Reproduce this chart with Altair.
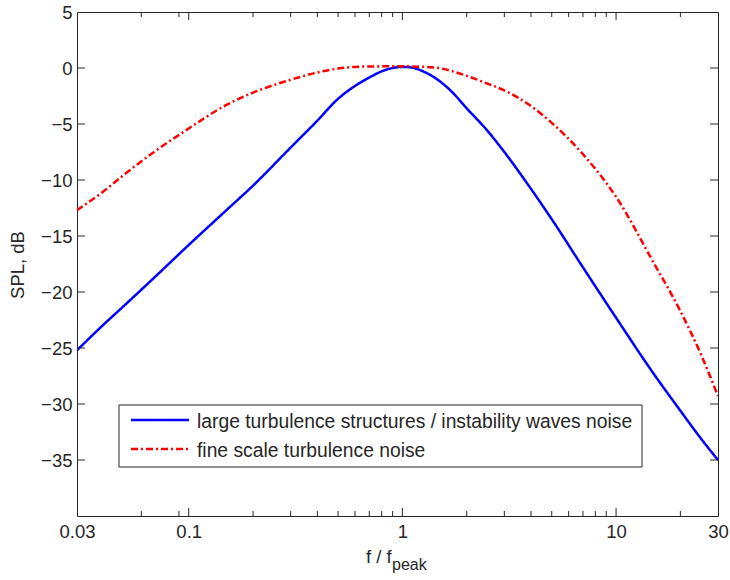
import altair as alt
import pandas as pd

# ---- data ----
series_names = ["large turbulence structures / instability waves noise",
                "fine scale turbulence noise"]

f_blue = [0.03, 0.04, 0.05, 0.07, 0.1, 0.15, 0.2, 0.3, 0.4, 0.5, 0.6, 0.7, 0.8, 0.9,
          1.0, 1.1, 1.25, 1.4, 1.7, 2.0, 2.5, 3.0, 4.0, 5.0, 7.0, 10, 15, 20, 25, 30]
spl_blue = [-25.2, -22.9, -21.2, -18.6, -15.8, -12.7, -10.5, -7.1, -4.7, -2.75, -1.6, -0.85, -0.3, 0.0,
            0.1, 0.05, -0.3, -0.8, -2.1, -3.6, -5.6, -7.5, -10.8, -13.5, -17.8, -22.3, -27.3, -30.6, -33.1, -35.0]

f_red = [0.03, 0.04, 0.05, 0.07, 0.1, 0.15, 0.2, 0.3, 0.4, 0.5, 0.7, 1.0, 1.4, 2.0,
         2.5, 3.0, 4.0, 5.0, 7.0, 10, 15, 20, 25, 30]
spl_red = [-12.7, -11.0, -9.5, -7.4, -5.4, -3.3, -2.2, -1.05, -0.4, -0.05, 0.14, 0.15, 0.05, -0.7,
           -1.4, -2.0, -3.4, -4.9, -7.7, -11.5, -17.4, -21.7, -25.6, -29.3]

x_tick_labels = [0.03, 0.1, 1, 10, 30]
x_major_ticks = [0.1, 1, 10]
x_minor_ticks = [0.06, 0.09, 0.2, 0.3, 0.4, 0.5, 0.6, 0.7, 0.8, 0.9,
                 2, 3, 4, 5, 6, 7, 8, 9, 20]
y_tick_labels = [5, 0, -5, -10, -15, -20, -25, -30, -35]
y_inner_ticks = [0, -5, -10, -15, -20, -25, -30, -35]

x_title_main = "f / f"
x_title_sub = "peak"
y_title = "SPL, dB"

# ---- layout constants ----
W, H = 641, 504
FONT = "Liberation Sans"
INK = "#262626"
BLUE = "#0000FF"
RED = "#FF0000"
DASHDOT = [7, 3, 2, 3]

df = pd.DataFrame({
    "f": f_blue + f_red,
    "spl": spl_blue + spl_red,
    "series": [series_names[0]] * len(f_blue) + [series_names[1]] * len(f_red),
})

xscale = alt.Scale(type="log", domain=[0.03, 30], nice=False)
yscale = alt.Scale(domain=[-40, 5], nice=False, zero=False)

xaxis = alt.Axis(values=x_tick_labels, labelExpr="'' + datum.value", title=None,
                 labelPadding=6, labelFlush=False, labelOverlap=False, labelBound=False)
yaxis = alt.Axis(values=y_tick_labels, title=None, labelPadding=5,
                 labelFlush=False, labelOverlap=False, labelBound=False)

X = alt.X("f:Q", scale=xscale, axis=xaxis)
Y = alt.Y("spl:Q", scale=yscale, axis=yaxis)

lines = alt.Chart(df).mark_line(strokeWidth=2.5, clip=True, interpolate="monotone").encode(
    x=X, y=Y,
    color=alt.Color("series:N", scale=alt.Scale(domain=series_names, range=[BLUE, RED]), legend=None),
    strokeDash=alt.StrokeDash("series:N", scale=alt.Scale(domain=series_names, range=[[1, 0], DASHDOT]), legend=None),
)

xmaj = pd.DataFrame({"f": x_major_ticks})
xmin = pd.DataFrame({"f": x_minor_ticks})
ytk = pd.DataFrame({"spl": y_inner_ticks})

tick_style = dict(color=INK, strokeWidth=1)
ticks = [
    alt.Chart(xmaj).mark_rule(**tick_style).encode(x=X, y=alt.value(H), y2=alt.value(H - 8)),
    alt.Chart(xmaj).mark_rule(**tick_style).encode(x=X, y=alt.value(0), y2=alt.value(8)),
    alt.Chart(xmin).mark_rule(**tick_style).encode(x=X, y=alt.value(H), y2=alt.value(H - 5)),
    alt.Chart(xmin).mark_rule(**tick_style).encode(x=X, y=alt.value(0), y2=alt.value(5)),
    alt.Chart(ytk).mark_rule(**tick_style).encode(y=Y, x=alt.value(0), x2=alt.value(8)),
    alt.Chart(ytk).mark_rule(**tick_style).encode(y=Y, x=alt.value(W - 8), x2=alt.value(W)),
]

# ---- legend (drawn by hand, MATLAB style) ----
leg_df = pd.DataFrame({"series": series_names, "row": [0, 1]})
legend_box = alt.Chart(leg_df).mark_rect(fill="white", stroke=INK, strokeWidth=1).encode(
    x=alt.value(42), x2=alt.value(565), y=alt.value(393), y2=alt.value(455)
).transform_filter("datum.row == 0")
leg_blue = alt.Chart(leg_df).mark_rule(color=BLUE, strokeWidth=2.5).encode(
    x=alt.value(54), x2=alt.value(112), y=alt.value(408)
).transform_filter("datum.row == 0")
leg_red = alt.Chart(leg_df).mark_rule(color=RED, strokeWidth=2.5, strokeDash=DASHDOT).encode(
    x=alt.value(54), x2=alt.value(112), y=alt.value(437)
).transform_filter("datum.row == 1")
leg_t1 = alt.Chart(leg_df).mark_text(align="left", baseline="middle", font=FONT, fontSize=19.3, color=INK).encode(
    x=alt.value(120), y=alt.value(410), text="series:N"
).transform_filter("datum.row == 0")
leg_t2 = alt.Chart(leg_df).mark_text(align="left", baseline="middle", font=FONT, fontSize=19.3, color=INK).encode(
    x=alt.value(120), y=alt.value(439), text="series:N"
).transform_filter("datum.row == 1")

# ---- axis titles ----
title_df = pd.DataFrame({"main": [x_title_main], "sub": [x_title_sub], "ytitle": [y_title]})
xt_main = alt.Chart(title_df).mark_text(align="left", baseline="alphabetic", font=FONT, fontSize=18.5, color=INK).encode(
    x=alt.value(289), y=alt.value(551), text="main:N")
xt_sub = alt.Chart(title_df).mark_text(align="left", baseline="alphabetic", font=FONT, fontSize=16, color=INK).encode(
    x=alt.value(315), y=alt.value(558), text="sub:N")
yt = alt.Chart(title_df).mark_text(align="center", baseline="middle", angle=270, font=FONT, fontSize=18.5, color=INK).encode(
    x=alt.value(-59), y=alt.value(253), text="ytitle:N")

chart = alt.layer(
    lines, *ticks, legend_box, leg_blue, leg_red, leg_t1, leg_t2, xt_main, xt_sub, yt
).properties(
    width=W, height=H,
    padding={"left": 77, "top": 12, "right": 12, "bottom": 64},
    autosize=alt.AutoSizeParams(type="none"),
    background="white",
).configure_view(
    stroke=INK, strokeWidth=1
).configure_axis(
    domain=False, ticks=False, grid=False,
    labelFont=FONT, labelFontSize=18.5, labelColor=INK,
)

chart.save("out.html", embed_options={"renderer": "svg", "actions": False})
